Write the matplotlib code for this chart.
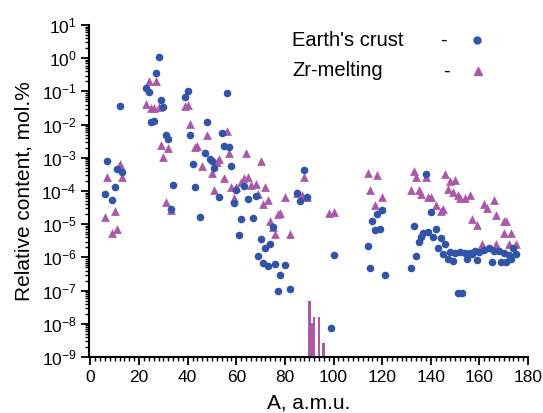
import matplotlib
matplotlib.use("Agg")
import matplotlib.pyplot as plt
import numpy as np

plt.rcParams['font.family'] = ['Liberation Sans', 'DejaVu Sans']
plt.rcParams['mathtext.fontset'] = 'custom'
plt.rcParams['mathtext.rm'] = 'Liberation Sans'
plt.rcParams['mathtext.default'] = 'regular'
plt.rcParams['axes.unicode_minus'] = False

# Earth's crust: mass number and log10 of relative content (mol.%)
crust_A = [6, 7, 9, 10, 11, 12, 13, 23, 24, 25, 26, 27, 28, 29, 30, 31, 32, 33, 34,
           39, 40, 41, 42, 43, 45, 47, 49, 50, 51, 48, 53, 54, 55, 57, 56, 58, 59, 60,
           62, 61, 63, 65, 67, 68, 69, 70, 71, 72, 73, 74, 75, 76, 77, 78, 80, 82,
           85, 86, 88, 89, 99, 100, 114, 115, 116, 117, 118, 119, 120, 121,
           132, 133, 134, 135, 136, 137, 138, 139, 140, 141, 142, 143, 144, 145, 146,
           147, 148, 149, 150, 151, 152, 153, 154, 155, 156, 157, 158, 159, 160, 162,
           164, 165, 166, 168, 169, 170, 171, 172, 173, 174, 175]
crust_exp = [-4.10, -3.09, -4.26, -3.89, -3.34, -1.44, -3.42, -0.89, -1.02, -1.91, -1.89,
             -0.45, 0.03, -1.27, -1.46, -2.31, -2.43, -4.54, -3.81,
             -1.16, -0.99, -2.30, -3.20, -3.89, -4.78, -2.86, -3.05, -3.10, -3.30, -1.92,
             -4.17, -2.24, -2.64, -2.68, -1.06, -3.24, -4.37, -3.97,
             -4.83, -5.33, -3.85, -4.23, -4.81, -4.15, -5.97, -5.45, -6.17, -5.73, -6.27,
             -5.60, -5.08, -6.21, -7.01, -6.53, -6.22, -6.95,
             -4.06, -4.29, -3.38, -4.17, -8.13, -5.93, -5.67, -6.33, -4.89, -5.17, -4.69,
             -5.14, -4.57, -6.53,
             -6.32, -5.04, -5.96, -5.53, -5.38, -5.27, -3.50, -5.23, -4.63, -5.38, -5.15,
             -5.73, -5.42, -5.91, -5.60,
             -6.06, -5.83, -6.10, -5.88, -7.08, -5.83, -7.06, -5.86, -6.06, -5.88, -5.90,
             -5.80, -6.08, -5.85, -5.77,
             -5.73, -6.13, -5.80, -5.80, -6.15, -5.87, -6.13, -5.93, -6.05, -5.73, -5.90]

# Zr-melting products
zrm_A = [6, 7, 9, 10, 11, 12, 13, 23, 24, 25, 26, 27, 28, 29, 30, 31, 32, 33,
         39, 40, 41, 44, 43, 46, 48, 50, 51, 52, 53, 55, 56, 57, 58, 59, 60,
         62, 63, 64, 65, 66, 68, 69, 70, 71, 72, 73, 74, 75, 76, 77, 78, 80, 82,
         85, 87, 89, 88, 98, 100, 114, 115, 117, 118, 120,
         133, 134, 132, 135, 136, 138, 139, 140, 142, 144, 145, 146, 147, 148, 149,
         150, 151, 152, 154, 156, 157, 159, 161, 162, 163, 166, 167, 167, 170, 171,
         170, 173, 172, 175]
zrm_exp = [-4.77, -3.57, -5.26, -4.59, -5.14, -3.19, -3.57, -1.39, -0.70, -1.50, -1.50,
           -0.69, -1.47, -2.62, -2.97, -4.34, -2.70, -4.58,
           -1.45, -1.41, -1.97, -2.63, -2.67, -3.26, -2.31, -3.47, -3.98, -3.14, -3.05,
           -3.62, -2.19, -2.86, -3.88, -4.20, -3.89,
           -3.72, -3.62, -2.86, -3.57, -3.82, -3.79, -4.09, -3.10, -4.39, -3.87, -4.27,
           -4.89, -5.08, -5.29, -4.69, -4.67, -4.18, -5.29,
           -4.07, -4.12, -4.17, -3.57, -4.67, -4.62, -3.47, -3.97, -4.42, -3.51, -4.19,
           -3.40, -3.59, -3.97, -3.97, -4.10, -3.59, -4.17, -4.17, -4.42, -4.59, -4.55,
           -3.49, -3.95, -3.70, -4.02,
           -3.67, -4.12, -4.22, -4.22, -4.12, -4.85, -5.02, -5.60, -4.39, -4.52, -4.26,
           -4.72, -5.60, -4.89, -4.89,
           -5.27, -5.27, -5.60, -5.60]

# Zr isotopes (bars)
zr_A = [90, 91, 92, 94, 96]
zr_exp = [-7.31, -7.97, -7.80, -7.80, -8.58]

blue = '#3153a8'
pink = '#ab58ab'
base = 1e-9

fig = plt.figure(figsize=(5.43, 4.13), dpi=100)
ax = fig.add_axes([0.1639, 0.1356, 0.8085, 0.8039])

ax.bar(zr_A, 10.0 ** np.array(zr_exp) - base, bottom=base, width=1.1, color=pink, zorder=2)
ax.scatter(zrm_A, 10.0 ** np.array(zrm_exp), marker='^', s=40, color=pink, linewidths=0, zorder=3)
ax.scatter(crust_A, 10.0 ** np.array(crust_exp), marker='o', s=30, color=blue, linewidths=0, zorder=4)

ax.set_yscale('log')
ax.set_ylim(1e-9, 10)
ax.set_xlim(-0.6, 180)
ax.set_xticks(np.arange(0, 181, 20))
ax.set_xticks(np.arange(0, 181, 2), minor=True)
ax.yaxis.set_major_locator(matplotlib.ticker.LogLocator(base=10, numticks=15))
ax.yaxis.set_minor_locator(matplotlib.ticker.LogLocator(base=10, subs=np.arange(2, 10), numticks=15))

for s in ['top', 'right']:
    ax.spines[s].set_visible(False)
for s in ['left', 'bottom']:
    ax.spines[s].set_linewidth(1.5)
ax.tick_params(which='major', direction='out', length=6, width=1.3, labelsize=12.5)
ax.tick_params(which='minor', direction='out', length=3, width=1.0)
ax.tick_params(axis='y', which='major', labelsize=12.5, pad=3)

ax.set_xlabel('A, a.m.u.', fontsize=15, labelpad=6)
ax.set_ylabel('Relative content, mol.%', fontsize=15, labelpad=6)

# legend drawn as text + markers
ax.text(0.463, 0.953, "Earth's crust", transform=ax.transAxes, fontsize=14.5, va='center', ha='left')
ax.text(0.800, 0.953, "-", transform=ax.transAxes, fontsize=14.5, va='center', ha='left')
ax.text(0.463, 0.862, "Zr-melting", transform=ax.transAxes, fontsize=14.5, va='center', ha='left')
ax.text(0.807, 0.862, "-", transform=ax.transAxes, fontsize=14.5, va='center', ha='left')
ax.plot([0.883], [0.956], marker='o', ms=5, color=blue, transform=ax.transAxes, clip_on=False)
ax.plot([0.887], [0.862], marker='^', ms=6, color=pink, transform=ax.transAxes, clip_on=False)

fig.savefig('out.png', dpi=100)
